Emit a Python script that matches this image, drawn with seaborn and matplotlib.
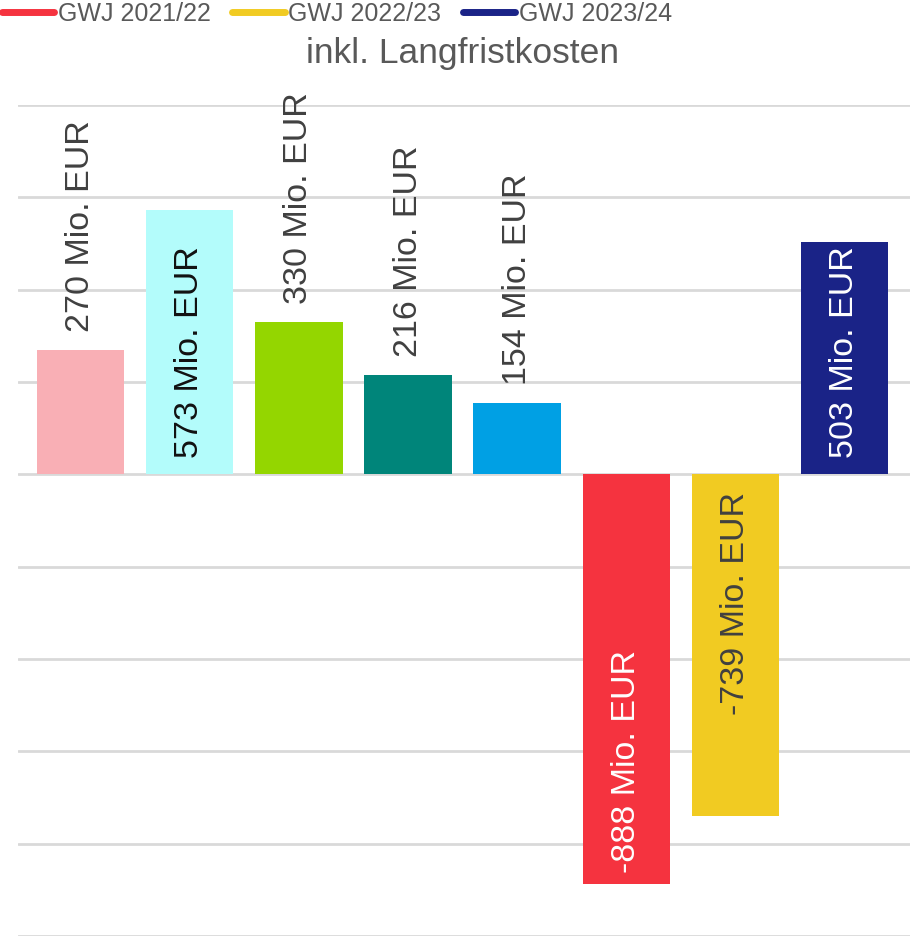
import matplotlib
matplotlib.use("Agg")
import matplotlib.pyplot as plt
import seaborn as sns
import pandas as pd
from matplotlib.lines import Line2D

# Daten
kategorien = ["K1", "K2", "K3", "K4", "K5", "K6", "K7", "K8"]
werte = [270, 573, 330, 216, 154, -888, -739, 503]
etiketten = ["270 Mio. EUR", "573 Mio. EUR", "330 Mio. EUR", "216 Mio. EUR",
             "154 Mio. EUR", "-888 Mio. EUR", "-739 Mio. EUR", "503 Mio. EUR"]
farben = ["#F9AFB5", "#B3FCFB", "#94D600", "#00857A", "#00A0E4",
          "#F5333F", "#F1CB22", "#1A2387"]
serien = ["GWJ 2021/22", "GWJ 2022/23", "GWJ 2023/24"]
serien_farben = ["#F5333F", "#F1CB22", "#1A2387"]

# Beschriftungsposition je Balken (Excel "beste Anpassung")
lage = ["aussen", "basis", "aussen", "aussen", "aussen", "ende", "basis", "basis"]
textfarben = ["#404040", "#111111", "#404040", "#404040", "#404040",
              "#FFFFFF", "#404040", "#FFFFFF"]

sns.set_theme(style="white")
plt.rcParams["font.family"] = ["Liberation Sans", "DejaVu Sans"]

df = pd.DataFrame({"kat": kategorien, "wert": werte})

fig = plt.figure(figsize=(9.1, 9.52), dpi=100)
ax = fig.add_axes([18 / 910, 1 - 936 / 952, 1 - 18 / 910, (936 - 105) / 952])

sns.barplot(data=df, x="kat", y="wert", hue="kat", palette=farben,
            width=0.8, legend=False, ax=ax, saturation=1, zorder=3,
            linewidth=0, edgecolor="none")

ax.set_ylim(-1000, 800)
ax.set_xlim(-0.574, 7.60)
ax.set_yticks(range(-1000, 801, 200))
ax.yaxis.grid(True, color="#D9D9D9", linewidth=2, zorder=0)
ax.xaxis.grid(False)
ax.set_xticks([])
ax.set_yticklabels([])
ax.tick_params(left=False, bottom=False)
ax.set_xlabel("")
ax.set_ylabel("")
for s in ax.spines.values():
    s.set_visible(False)

bars = ax.patches
for i, (v, txt, pos, fc) in enumerate(zip(werte, etiketten, lage, textfarben)):
    if pos == "aussen":
        y, off, va = v, 13, "bottom"
    elif pos == "basis":
        if v >= 0:
            y, off, va = 0, 12, "bottom"
        else:
            y, off, va = 0, -13, "top"
    else:
        y, off, va = v, 8, "bottom"
    t = ax.annotate(txt, (i, y), xytext=(0, off), textcoords="offset points",
                    rotation=90, ha="center", va=va, fontsize=24.5,
                    color=fc, zorder=5)
    if pos == "basis" and v >= 0:
        t.set_clip_path(bars[i])

# Legende (Linienserien)
handles = [Line2D([0], [0], color=c, linewidth=5, solid_capstyle="round")
           for c in serien_farben]
fig.legend(handles, serien, loc="center left", bbox_to_anchor=(0.002, 1 - 14 / 952),
           ncol=3, frameon=False, handlelength=2.1, handletextpad=0.15,
           columnspacing=0.85, borderaxespad=0, borderpad=0,
           prop={"size": 18}, labelcolor="#595959")

fig.text(462 / 910, 1 - 53 / 952, "inkl. Langfristkosten", ha="center", va="center",
         fontsize=25.5, color="#595959")

fig.savefig("out.png", dpi=100)
